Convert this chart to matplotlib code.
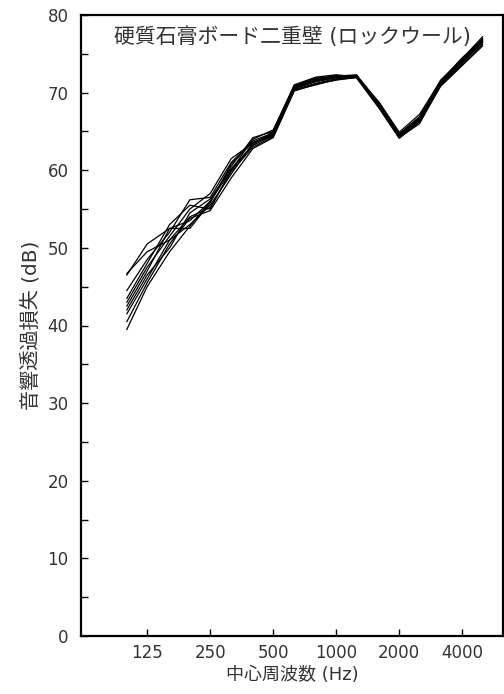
import numpy as np
import matplotlib
matplotlib.use("Agg")
import matplotlib.pyplot as plt
from matplotlib.ticker import FixedLocator, MultipleLocator, NullLocator

# Latin glyphs from DejaVu (wide, like the original), Japanese from Noto CJK
plt.rcParams['font.family'] = ['DejaVu Sans', 'Noto Sans CJK JP']

# 1/3 octave band centre frequencies (Hz)
freqs = [100, 125, 160, 200, 250, 315, 400, 500, 630, 800,
         1000, 1250, 1600, 2000, 2500, 3150, 4000, 5000]

# sound transmission loss (dB), one list per specimen
tl_1 = [46.7, 49.5, 51.0, 53.0, 55.5, 59.5, 63.5, 64.6, 70.8, 71.8, 72.2, 72.2, 68.6, 64.6, 66.8, 71.3, 74.2, 77.0]
tl_2 = [46.5, 50.5, 52.5, 53.5, 56.0, 60.5, 64.2, 65.0, 71.0, 72.0, 72.3, 72.0, 68.8, 64.9, 67.2, 71.5, 74.5, 76.8]
tl_3 = [44.5, 48.5, 52.0, 56.2, 56.5, 61.0, 63.8, 64.8, 70.6, 71.5, 72.0, 72.1, 68.4, 64.4, 66.4, 71.0, 73.8, 76.5]
tl_4 = [43.5, 48.0, 53.0, 55.5, 55.0, 60.0, 64.0, 65.2, 70.9, 71.9, 72.1, 72.3, 68.7, 64.7, 66.9, 71.6, 74.3, 76.9]
tl_5 = [43.0, 47.5, 51.5, 55.0, 57.0, 61.5, 63.5, 64.4, 70.4, 71.2, 71.8, 72.0, 68.2, 64.3, 66.2, 70.8, 73.5, 76.0]
tl_6 = [42.5, 47.0, 52.5, 52.5, 55.8, 60.8, 63.6, 64.7, 70.7, 71.6, 72.0, 72.2, 68.5, 64.5, 66.6, 71.2, 74.0, 76.6]
tl_7 = [42.0, 46.5, 50.0, 54.5, 56.3, 60.2, 63.2, 64.5, 70.5, 71.4, 71.9, 72.1, 68.3, 64.2, 66.0, 70.9, 73.6, 76.2]
tl_8 = [41.5, 46.0, 51.0, 54.0, 55.2, 59.8, 63.0, 64.3, 70.3, 71.0, 71.7, 71.9, 68.0, 64.1, 66.3, 71.1, 73.9, 76.4]
tl_9 = [40.5, 45.5, 50.5, 53.8, 54.8, 59.0, 62.8, 64.2, 70.2, 71.1, 71.6, 72.0, 68.1, 64.6, 66.7, 71.4, 74.1, 76.7]
tl_10 = [39.5, 45.0, 49.5, 52.8, 56.0, 60.0, 63.3, 65.0, 70.6, 71.7, 72.0, 72.2, 68.6, 64.4, 66.5, 71.2, 74.4, 77.2]
series = [tl_1, tl_2, tl_3, tl_4, tl_5, tl_6, tl_7, tl_8, tl_9, tl_10]

xticks = [125, 250, 500, 1000, 2000, 4000]
xticklabels = ["125", "250", "500", "1000", "2000", "4000"]

title = "硬質石膏ボード二重壁 (ロックウール)"
xlabel = "中心周波数 (Hz)"
ylabel = "音響透過損失 (dB)"

fig = plt.figure(figsize=(5.04, 6.94), dpi=100)
ax = fig.add_axes([81/504, 1 - 636/694, (503-81)/504, (636-15)/694])

for s in series:
    ax.plot(freqs, s, color="black", lw=0.9)

ax.set_xscale("log")
ax.set_xlim(60.4, 6260)
ax.set_ylim(0, 80)
ax.xaxis.set_major_locator(FixedLocator(xticks))
ax.xaxis.set_minor_locator(NullLocator())
ax.set_xticklabels(xticklabels)
ax.yaxis.set_major_locator(MultipleLocator(10))
ax.yaxis.set_minor_locator(MultipleLocator(5))

ax.tick_params(axis="both", which="both", direction="in", length=5, width=1,
               labelsize=12, labelcolor="#333")
ax.tick_params(axis="y", pad=9)
ax.tick_params(axis="x", pad=6)
for sp in ax.spines.values():
    sp.set_linewidth(1.6)

ax.text(0.5, 0.965, title, transform=ax.transAxes, ha="center", va="center",
        fontsize=15, color="#333")
ax.set_xlabel(xlabel, fontsize=13, color="#333", labelpad=3)
ax.set_ylabel(ylabel, fontsize=14.5, color="#333")
ax.yaxis.set_label_coords(-0.095, 0.5)

fig.savefig("out.png", dpi=100)
